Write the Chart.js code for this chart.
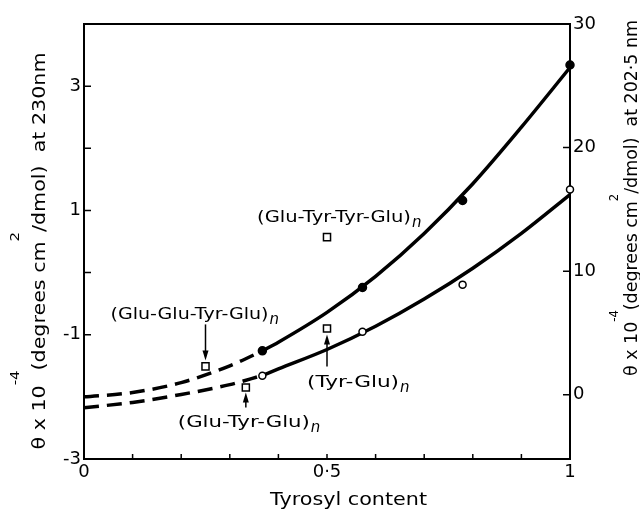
<!DOCTYPE html>
<html>
<head>
<meta charset="utf-8">
<script src="https://cdn.jsdelivr.net/npm/chart.js@4.4.1/dist/chart.umd.min.js"></script>
<style>
  html, body { margin: 0; padding: 0; background: #fff; }
  #wrap { width: 640px; height: 518px; }
</style>
</head>
<body>
<div id="wrap"><canvas id="cd" width="640" height="518"></canvas></div>
<script>
// copolymers: tyrosyl content and ellipticity at the two wavelengths
const tyrContent = [0.367, 0.573, 0.779, 1.0];
const theta230 = [-1.26, -0.24, 1.16, 3.34];   // filled circles, left axis
const theta2025 = [1.54, 5.10, 8.91, 16.6];    // open circles, right axis

// sequential polypeptides (squares, left axis)
const seqNames = ['(Glu-Glu-Tyr-Glu)', '(Glu-Tyr-Glu)', '(Tyr-Glu)', '(Glu-Tyr-Tyr-Glu)'];
const seqContent = [0.25, 0.333, 0.5, 0.5];
const seqTheta = [-1.51, -1.85, -0.90, 0.57];

// smooth curves: dashed extrapolation to zero tyrosine, solid through the data
const dashX = [0, 0.1, 0.2, 0.3, 0.367];
const dash230 = [-2.0, -1.93, -1.77, -1.50, -1.26];
const dash2025 = [-1.05, -0.62, 0.02, 0.82, 1.56];
const fitX = [0.367, 0.4, 0.5, 0.6, 0.7, 0.8, 0.9, 1.0];
const fit230 = [-1.26, -1.12, -0.64, -0.06, 0.63, 1.43, 2.34, 3.3];
const fit2025 = [1.56, 2.09, 3.66, 5.54, 7.74, 10.24, 13.06, 16.2];

// axes
const xTicks = [0, 0.1, 0.2, 0.3, 0.4, 0.5, 0.6, 0.7, 0.8, 0.9, 1];
const xTickLabels = ['0', '', '', '', '', '0·5', '', '', '', '', '1'];
const yTicks = [-3, -2, -1, 0, 1, 2, 3];
const yTickLabels = ['-3', '', '-1', '', '1', '', '3'];
const y2Ticks = [0, 10, 20, 30];
const y2TickLabels = ['0', '10', '20', '30'];

const FONT = '"DejaVu Sans", sans-serif';

function pts(xs, ys) {
  return xs.map((x, i) => ({ x: x, y: ys[i] }));
}

function curve(xs, ys, axis, dashed) {
  return {
    data: pts(xs, ys), yAxisID: axis, showLine: true,
    borderColor: '#000', borderWidth: 3.5, borderDash: dashed ? [15, 8] : [],
    cubicInterpolationMode: 'monotone', pointRadius: 0, order: 2, clip: false
  };
}

function marks(xs, ys, axis, style, fill, r) {
  return {
    data: pts(xs, ys), yAxisID: axis, showLine: false,
    pointStyle: style, pointRadius: r, pointBackgroundColor: fill,
    pointBorderColor: '#000', pointBorderWidth: 1.5, order: 0, clip: false
  };
}

// label placement relative to each square (px), and text width
const seqLabelPos = [
  { dx: -95, dy: -47, w: 158, arrow: [-42, -6] },
  { dx: -68, dy: 39, w: 132, arrow: [20, 5] },
  { dx: -20, dy: 58, w: 92, arrow: [38, 6] },
  { dx: -70, dy: -15, w: 154, arrow: null }
];

function arrow(ctx, x, y0, y1) {
  const dir = y1 > y0 ? 1 : -1;
  ctx.beginPath();
  ctx.moveTo(x, y0);
  ctx.lineTo(x, y1 - dir * 6);
  ctx.lineWidth = 1.5;
  ctx.stroke();
  ctx.beginPath();
  ctx.moveTo(x, y1);
  ctx.lineTo(x - 3, y1 - dir * 10);
  ctx.lineTo(x + 3, y1 - dir * 10);
  ctx.closePath();
  ctx.fill();
}

// text stretched horizontally to a given width (the original face is wide)
function wide(ctx, text, x, y, width) {
  const k = width / ctx.measureText(text).width;
  ctx.save();
  ctx.translate(x, y);
  ctx.scale(k, 1);
  ctx.fillText(text, 0, 0);
  ctx.restore();
  return x + width;
}

// rotated axis title with raised superscripts, reading bottom to top
function richTitle(ctx, parts, baseX, centerY, size, supSize, supRaise, span) {
  ctx.save();
  ctx.translate(baseX, centerY);
  ctx.rotate(-Math.PI / 2);
  let w = 0;
  parts.forEach(p => {
    ctx.font = (p.sup ? supSize : size) + 'px ' + FONT;
    w += ctx.measureText(p.t).width;
  });
  ctx.translate(-span / 2, 0);
  ctx.scale(span / w, 1);
  ctx.textBaseline = 'alphabetic';
  ctx.textAlign = 'left';
  let u = 0;
  parts.forEach(p => {
    ctx.font = (p.sup ? supSize : size) + 'px ' + FONT;
    ctx.fillText(p.t, u, p.sup ? -supRaise : 0);
    u += ctx.measureText(p.t).width;
  });
  ctx.restore();
}

const decor = {
  id: 'decor',
  beforeDatasetsDraw(chart) {
    const ctx = chart.ctx, a = chart.chartArea;
    const sx = chart.scales.x, sy = chart.scales.y, sy2 = chart.scales.y2;
    ctx.save();
    ctx.strokeStyle = '#000';
    ctx.lineWidth = 2;
    ctx.strokeRect(a.left, a.top, a.right - a.left, a.bottom - a.top);
    ctx.lineWidth = 1.5;
    ctx.beginPath();
    sx.ticks.forEach(t => {
      const p = sx.getPixelForValue(t.value);
      ctx.moveTo(p, a.bottom); ctx.lineTo(p, a.bottom - 5);
    });
    sy.ticks.forEach(t => {
      const p = sy.getPixelForValue(t.value);
      ctx.moveTo(a.left, p); ctx.lineTo(a.left + 7, p);
    });
    sy2.ticks.forEach(t => {
      const p = sy2.getPixelForValue(t.value);
      ctx.moveTo(a.right, p); ctx.lineTo(a.right - 7, p);
    });
    ctx.stroke();
    ctx.restore();
  },
  afterDatasetsDraw(chart) {
    const ctx = chart.ctx;
    const sx = chart.scales.x, sy = chart.scales.y;
    ctx.save();
    ctx.fillStyle = '#000';
    ctx.strokeStyle = '#000';
    ctx.textBaseline = 'alphabetic';
    ctx.textAlign = 'left';
    seqNames.forEach((name, i) => {
      const px = sx.getPixelForValue(seqContent[i]);
      const py = sy.getPixelForValue(seqTheta[i]);
      const pos = seqLabelPos[i];
      ctx.font = '16px ' + FONT;
      const tx = px + pos.dx, ty = py + pos.dy;
      const end = wide(ctx, name, tx, ty, pos.w);
      ctx.font = 'italic 15px ' + FONT;
      ctx.fillText('n', end + 1, ty + 5);
      if (pos.arrow) arrow(ctx, px, py + pos.arrow[0], py + pos.arrow[1]);
    });

    ctx.font = '18px ' + FONT;
    wide(ctx, 'Tyrosyl content', 270, 505, 157);

    richTitle(ctx, [
      { t: 'θ x 10' }, { t: '-4', sup: true }, { t: '(degrees cm' }, { t: '2', sup: true },
      { t: '/dmol)  at 230nm' }
    ], 45, 251, 18, 13, 26, 397);
    richTitle(ctx, [
      { t: 'θ x 10' }, { t: '-4', sup: true }, { t: '(degrees cm' }, { t: '2', sup: true },
      { t: '/dmol)  at 202·5 nm' }
    ], 637, 198, 18, 12, 19, 356);
    ctx.restore();
  }
};

function fixed(list, labels) {
  return {
    afterBuildTicks: s => { s.ticks = list.map(v => ({ value: v })); },
    ticks: {
      callback: (v, i) => labels[i], color: '#000', autoSkip: false,
      font: { family: FONT, size: 18 }
    }
  };
}

new Chart(document.getElementById('cd'), {
  type: 'scatter',
  data: {
    datasets: [
      curve(dashX, dash230, 'y', true),
      curve(dashX, dash2025, 'y2', true),
      curve(fitX, fit230, 'y', false),
      curve(fitX, fit2025, 'y2', false),
      marks(tyrContent, theta230, 'y', 'circle', '#000', 4),
      marks(tyrContent, theta2025, 'y2', 'circle', '#fff', 3.5),
      marks(seqContent, seqTheta, 'y', 'rect', '#fff', 5)
    ]
  },
  options: {
    responsive: false,
    animation: false,
    devicePixelRatio: 1,
    layout: { padding: { top: 24, left: 0, right: 0, bottom: 0 } },
    plugins: { legend: { display: false }, tooltip: { enabled: false } },
    scales: {
      x: Object.assign(fixed(xTicks, xTickLabels), {
        type: 'linear', min: 0, max: 1,
        grid: { display: false, drawTicks: false }, border: { display: false },
        afterFit: s => { s.height = 59; }
      }),
      y: Object.assign(fixed(yTicks, yTickLabels), {
        type: 'linear', position: 'left', min: -3, max: 4,
        grid: { display: false, drawTicks: false }, border: { display: false },
        afterFit: s => { s.width = 84; }
      }),
      y2: Object.assign(fixed(y2Ticks, y2TickLabels), {
        type: 'linear', position: 'right', min: -5.2, max: 30,
        grid: { display: false, drawTicks: false }, border: { display: false },
        afterFit: s => { s.width = 70; }
      })
    }
  },
  plugins: [decor]
});
</script>
</body>
</html>
